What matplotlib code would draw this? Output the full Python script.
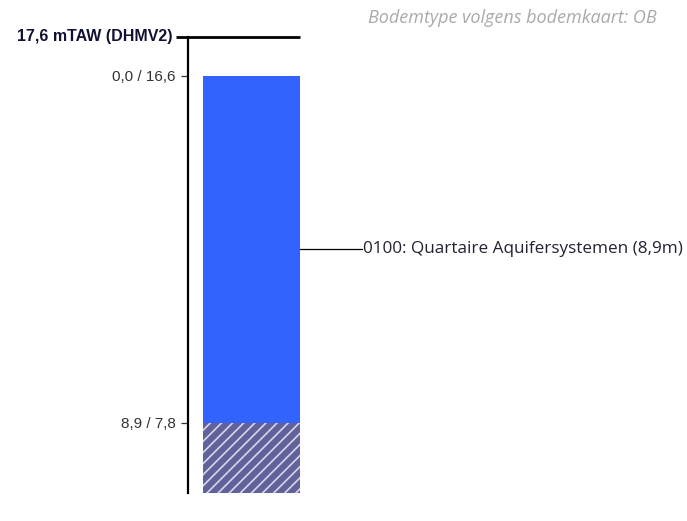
import matplotlib
matplotlib.use("Agg")
import matplotlib.pyplot as plt

# gegevens boring / bodemprofiel
maaiveld_taw = 17.6
maaiveld_label = "17,6 mTAW (DHMV2)"
laag_top = [0.0, 8.9]          # diepte (m)
laag_taw = [16.6, 7.8]         # mTAW
laag_dikte = [8.9, None]       # onderste laag: onbekend
laag_namen = ["0100: Quartaire Aquifersystemen (8,9m)", None]
laag_kleur = ["#3363ff", "#62629a"]
laag_hatch = [None, "///"]
bodemtype = "Bodemtype volgens bodemkaart: OB"

diepte_onder = 10.7
boven = -(maaiveld_taw - laag_taw[0])

plt.rcParams["hatch.color"] = "#d6d6ee"
plt.rcParams["hatch.linewidth"] = 1.2

W, H = 687, 521
fig = plt.figure(figsize=(W / 100, H / 100), dpi=100)
ax = fig.add_axes([188 / W, 1 - 493 / H, (W - 188) / W, (493 - 37) / H])
ax.set_xlim(0, 1)
ax.set_ylim(diepte_onder, boven)

bar_x0, bar_x1 = 0.030, 0.2244
for top, dikte, kleur, hatch in zip(laag_top, laag_dikte, laag_kleur, laag_hatch):
    if dikte is None:
        dikte = diepte_onder - top
    ax.bar((bar_x0 + bar_x1) / 2, dikte, width=bar_x1 - bar_x0, bottom=top,
           color=kleur, hatch=hatch, linewidth=0)

# lijn maaiveld
ax.plot([-0.024, bar_x1], [boven, boven], color="black", lw=2.0,
        clip_on=False, solid_capstyle="butt")
ax.text(-0.031, boven, maaiveld_label, ha="right", va="center",
        fontsize=11.5, fontweight="bold", family="Liberation Sans", color="#111133")

# laagnamen met verbindingslijn
for top, dikte, naam in zip(laag_top, laag_dikte, laag_namen):
    if naam is None:
        continue
    mid = top + dikte / 2
    ax.plot([bar_x1, 0.349], [mid, mid], color="black", lw=0.9)
    ax.text(0.351, mid, naam, ha="left", va="center", fontsize=12.3,
            family="Open Sans", color="#222233")

# as
for s in ["top", "right", "bottom"]:
    ax.spines[s].set_visible(False)
ax.spines["left"].set_linewidth(1.6)
ax.set_xticks([])
ax.set_yticks(laag_top)
ax.set_yticklabels([f"{d:.1f} / {t:.1f}".replace(".", ",") for d, t in zip(laag_top, laag_taw)],
                   fontsize=11, family="Liberation Sans", color="#333333")
ax.tick_params(axis="y", length=5, width=0.9, pad=4, color="#333333")

fig.text(368 / W, 1 - 18 / H, bodemtype, ha="left", va="center", fontsize=13,
         style="italic", family="Open Sans", color="#aaaaaa")

fig.savefig("out.png", dpi=100)
